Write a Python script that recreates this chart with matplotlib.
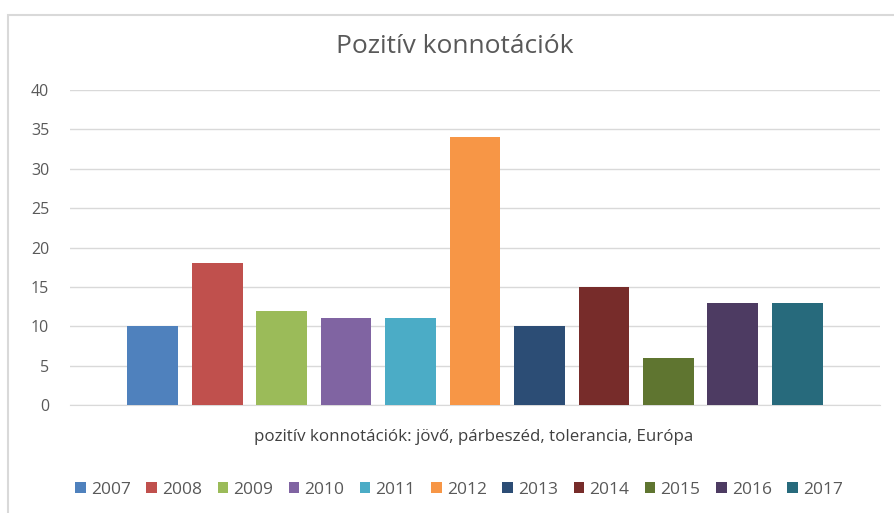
import matplotlib
matplotlib.use("Agg")
import matplotlib.pyplot as plt
from matplotlib.patches import Rectangle, Patch

years = ["2007", "2008", "2009", "2010", "2011", "2012", "2013", "2014", "2015", "2016", "2017"]
values = [10, 18, 12, 11, 11, 34, 10, 15, 6, 13, 13]
colors = ["#4F81BD", "#C0504D", "#9BBB59", "#8064A2", "#4BACC6", "#F79646",
          "#2C4D75", "#772C2A", "#5F7530", "#4D3B62", "#276A7C"]
title = "Pozitív konnotációk"
xlabel = "pozitív konnotációk: jövő, párbeszéd, tolerancia, Európa"
yticks = [0, 5, 10, 15, 20, 25, 30, 35, 40]

plt.rcParams['font.family'] = ['Open Sans', 'DejaVu Sans']
W, H = 894, 513
fig = plt.figure(figsize=(W/100, H/100), dpi=100)
fig.patch.set_facecolor("white")
fig.patches.append(Rectangle((8/W, -0.1), 1.2, 1 - 15/H + 0.1, transform=fig.transFigure,
                             fill=False, edgecolor="#D9D9D9", linewidth=1.5))

ax = fig.add_axes([70/W, 1 - 405/H, 810/W, 315/H])
x = list(range(len(years)))
ax.bar(x, values, width=0.79, color=colors, zorder=3)
ax.set_xlim(-1.28, 11.28)
ax.set_ylim(0, 40)
ax.set_yticks(yticks)
ax.set_xticks([])
ax.grid(axis="y", color="#D9D9D9", linewidth=1, zorder=0)
for s in ["top", "right", "left"]:
    ax.spines[s].set_visible(False)
ax.spines["bottom"].set_color("#D9D9D9")
ax.tick_params(axis="y", length=0, labelsize=11.5, labelcolor="#595959", pad=15)
ax.set_facecolor("white")

fig.text(455/W, 1 - 47/H, title, ha="center", va="center", fontsize=19, color="#595959")
fig.text(474/W, 1 - 437/H, xlabel, ha="center", va="center", fontsize=12.2, color="#404040")

handles = [Patch(facecolor=c, edgecolor="none") for c in colors]
fig.legend(handles, years, loc="center", bbox_to_anchor=(459/W, 1 - 490/H), ncol=11,
           frameon=False, fontsize=12.5, handlelength=0.6, handleheight=0.6,
           handletextpad=0.3, columnspacing=0.9, labelcolor="#595959")

fig.savefig("out.png", dpi=100)
